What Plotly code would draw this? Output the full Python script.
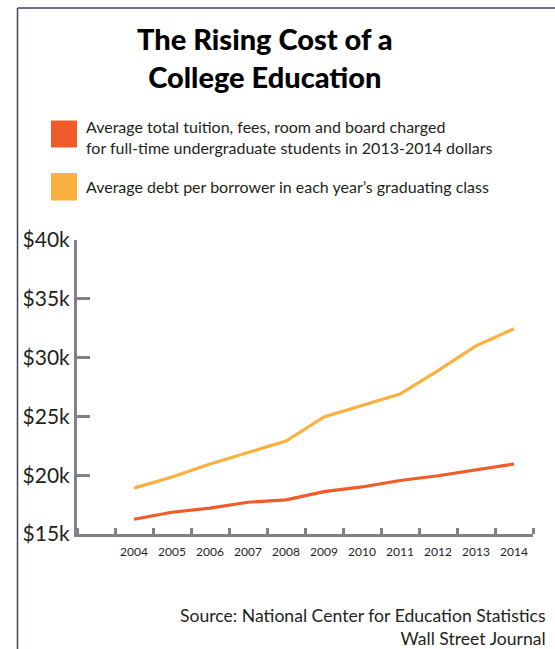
import plotly.graph_objects as go

# Data: average cost of college vs. average student debt (thousands of dollars)
years = [2004, 2005, 2006, 2007, 2008, 2009, 2010, 2011, 2012, 2013, 2014]
tuition_room_board = [16.25, 16.85, 17.2, 17.7, 17.9, 18.6, 19.0, 19.55, 19.95, 20.45, 20.95]
debt_per_borrower = [18.9, 19.85, 20.95, 21.95, 22.9, 24.95, 25.9, 26.9, 28.9, 31.0, 32.45]
y_ticks = [15, 20, 25, 30, 35, 40]
y_tick_labels = ["$15k", "$20k", "$25k", "$30k", "$35k", "$40k"]

series_names = [
    "Average total tuition, fees, room and board charged<br>for full-time undergraduate students in 2013-2014 dollars",
    "Average debt per borrower in each year’s graduating class",
]

RED = "#F15A29"
ORANGE = "#FBB040"
AXIS_GRAY = "#808285"
TEXT = "#231F20"
FRAME = "#3D4452"
FONT = "Lato"

W, H = 555, 649
ML, MR, MT, MB = 77, 22, 240, 115
PW, PH = W - ML - MR, H - MT - MB


def px(x):
    return (x - ML) / PW


def py(y):
    return (H - MB - y) / PH


fig = go.Figure()
fig.add_trace(go.Scatter(x=years, y=tuition_room_board, mode="lines",
                         line=dict(color=RED, width=3.2), name=series_names[0],
                         hoverinfo="x+y"))
fig.add_trace(go.Scatter(x=years, y=debt_per_borrower, mode="lines",
                         line=dict(color=ORANGE, width=3.2), name=series_names[1],
                         hoverinfo="x+y"))

shapes = [
    # page frame: top and left rules
    dict(type="line", xref="paper", yref="paper", x0=px(17.5), x1=px(W + 5),
         y0=py(8), y1=py(8), line=dict(color=FRAME, width=1.5)),
    dict(type="line", xref="paper", yref="paper", x0=px(17.5), x1=px(17.5),
         y0=py(8), y1=py(H + 5), line=dict(color=FRAME, width=1.5)),
    # legend swatches
    dict(type="rect", xref="paper", yref="paper", x0=px(51), x1=px(77),
         y0=py(120.5), y1=py(147.5), fillcolor=RED, line=dict(width=0)),
    dict(type="rect", xref="paper", yref="paper", x0=px(51), x1=px(77),
         y0=py(173), y1=py(200.5), fillcolor=ORANGE, line=dict(width=0)),
]

annotations = [
    dict(text="The Rising Cost of a<br>College Education", xref="paper", yref="paper",
         x=px(265), y=py(57), xanchor="center", yanchor="middle", showarrow=False,
         font=dict(family=FONT, size=29, color="#000000", weight=900)),
    dict(text=series_names[0], xref="paper", yref="paper", x=px(84), y=py(137),
         xanchor="left", yanchor="middle", align="left", showarrow=False,
         font=dict(family=FONT, size=16, color=TEXT)),
    dict(text=series_names[1], xref="paper", yref="paper", x=px(84), y=py(187),
         xanchor="left", yanchor="middle", align="left", showarrow=False,
         font=dict(family=FONT, size=16, color=TEXT)),
    dict(text="Source: National Center for Education Statistics<br>Wall Street Journal",
         xref="paper", yref="paper", x=px(548), y=py(627), xanchor="right",
         yanchor="middle", align="right", showarrow=False,
         font=dict(family=FONT, size=17.6, color=TEXT)),
]

fig.update_layout(
    width=W, height=H,
    margin=dict(l=ML, r=MR, t=MT, b=MB, pad=0),
    paper_bgcolor="white", plot_bgcolor="white",
    showlegend=False,
    shapes=shapes, annotations=annotations,
    xaxis=dict(
        range=[2002.5, 2014.5], tickvals=years, ticktext=[str(y) for y in years],
        ticks="", showgrid=False, zeroline=False,
        showline=True, linecolor=AXIS_GRAY, linewidth=3,
        tickfont=dict(family=FONT, size=12, color=TEXT),
        ticklabelstandoff=5,
        minor=dict(tick0=2003.5, dtick=1, ticks="inside", ticklen=6,
                   tickwidth=3, tickcolor=AXIS_GRAY, showgrid=False),
        fixedrange=True,
    ),
    yaxis=dict(
        range=[15, 40], tickvals=y_ticks, ticktext=y_tick_labels,
        ticks="inside", ticklen=13, tickwidth=3, tickcolor=AXIS_GRAY,
        showgrid=False, zeroline=False,
        showline=True, linecolor=AXIS_GRAY, linewidth=3,
        tickfont=dict(family=FONT, size=21, color=TEXT),
        fixedrange=True,
    ),
)

fig.write_html("out.html", config={"displayModeBar": False})
